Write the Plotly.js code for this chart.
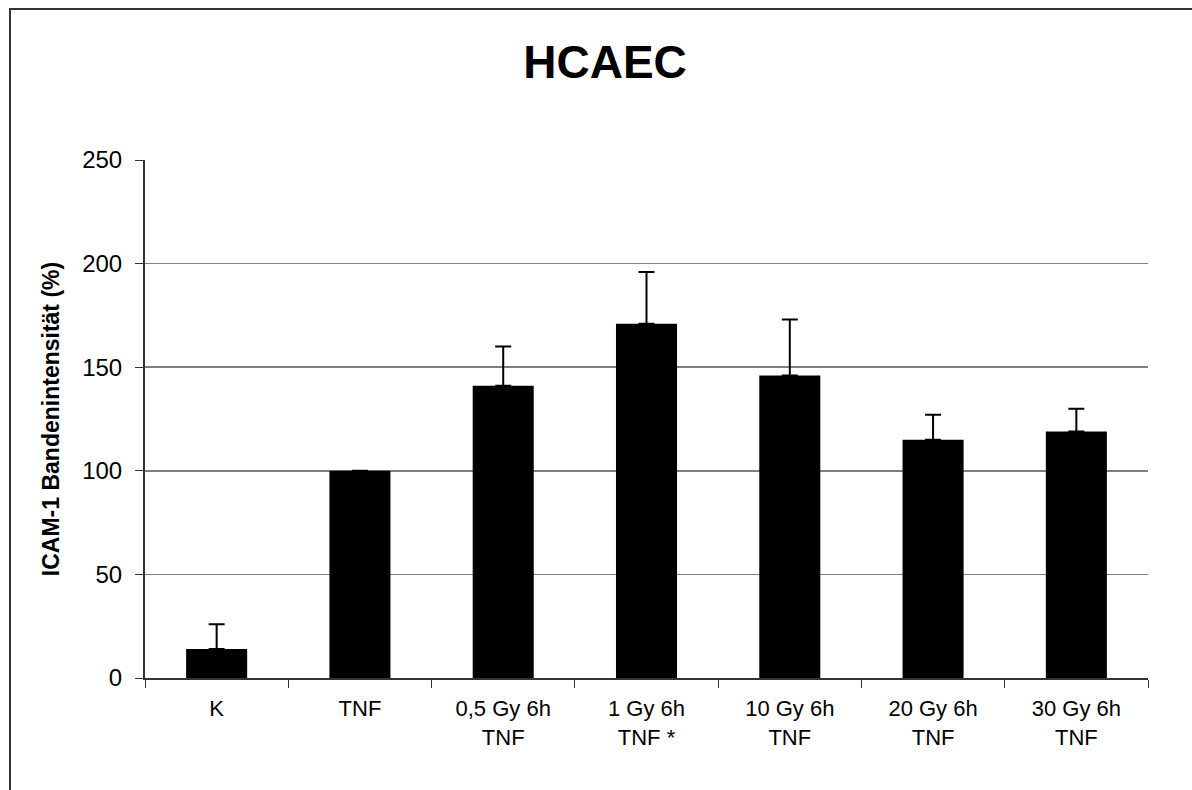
<!DOCTYPE html>
<html>
<head>
<meta charset="utf-8">
<script src="https://cdn.plot.ly/plotly-3.0.1.min.js"></script>
<style>
  html, body { margin: 0; padding: 0; background: #ffffff; }
  #chart { width: 1192px; height: 790px; }
</style>
</head>
<body>
<div id="chart"></div>
<script>
const categories = ["K", "TNF", "0,5 Gy 6h<br>TNF", "1 Gy 6h<br>TNF *", "10 Gy 6h<br>TNF", "20 Gy 6h<br>TNF", "30 Gy 6h<br>TNF"];
const values = [14, 100, 141, 171, 146, 115, 119];
const errorsUp = [12, 0, 19, 25, 27, 12, 11];
const errorsDown = [0, 0, 0, 0, 0, 0, 0];
const yTicks = [0, 50, 100, 150, 200, 250];

const W = 1192, H = 790;
const m = { l: 145, r: 44, t: 160, b: 112 };
const pw = W - m.l - m.r, ph = H - m.t - m.b;
const px = v => (v - m.l) / pw;
const py = v => (H - m.b - v) / ph;

const trace = {
  type: "bar",
  x: categories,
  y: values,
  marker: { color: "#000000", line: { width: 0 } },
  error_y: {
    type: "data",
    symmetric: false,
    array: errorsUp,
    arrayminus: errorsDown,
    color: "#000000",
    thickness: 2,
    width: 8
  },
  hoverinfo: "x+y"
};

const layout = {
  width: W,
  height: H,
  margin: m,
  paper_bgcolor: "#ffffff",
  plot_bgcolor: "#ffffff",
  font: { family: "Liberation Sans, Arial, sans-serif", size: 22, color: "#000000" },
  showlegend: false,
  bargap: 0.574,
  title: {
    text: "<b>HCAEC</b>",
    font: { size: 46, family: "Liberation Sans, Arial, sans-serif", color: "#000000" },
    x: 605 / W, xref: "container", xanchor: "center",
    y: 1 - 62 / H, yref: "container", yanchor: "middle"
  },
  xaxis: {
    type: "category",
    showgrid: false,
    showline: true,
    linecolor: "#333333",
    linewidth: 2,
    ticks: "outside",
    tickson: "boundaries",
    ticklen: 8,
    tickcolor: "#333333",
    tickwidth: 1,
    tickfont: { size: 22 },
    ticklabelstandoff: 10,
    zeroline: false,
    fixedrange: true
  },
  yaxis: {
    range: [0, 250],
    tickvals: yTicks,
    ticktext: yTicks.map(String),
    showgrid: true,
    gridcolor: "#7f7f7f",
    gridwidth: 1.5,
    showline: true,
    linecolor: "#333333",
    linewidth: 2,
    ticks: "outside",
    ticklen: 8,
    tickcolor: "#333333",
    tickwidth: 1,
    tickfont: { size: 24 },
    ticklabelstandoff: 8,
    zeroline: false,
    title: {
      text: "<b>ICAM-1 Bandenintensität (%)</b>",
      font: { size: 23 },
      standoff: 16
    },
    fixedrange: true
  },
  shapes: [
    {
      type: "rect",
      xref: "paper", yref: "paper",
      x0: px(10), x1: px(1300),
      y0: py(900), y1: py(9),
      line: { color: "#333333", width: 2 },
      fillcolor: "rgba(0,0,0,0)",
      layer: "below"
    }
  ]
};

Plotly.newPlot("chart", [trace], layout, { displayModeBar: false, staticPlot: true });
</script>
</body>
</html>
